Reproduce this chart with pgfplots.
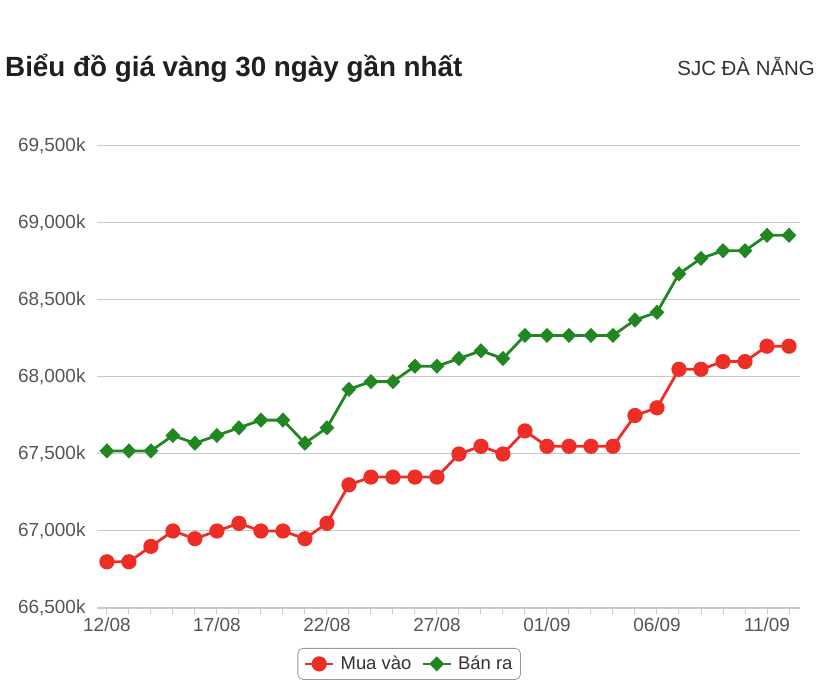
\documentclass[border=0pt]{standalone}
\usepackage{fontspec}
\setmainfont{Liberation Sans}
\usepackage{pgfplots}
\pgfplotsset{compat=1.18}
\definecolor{redc}{RGB}{236,46,38}
\definecolor{greenc}{RGB}{34,134,34}
\definecolor{gridc}{RGB}{200,200,200}
\definecolor{textc}{RGB}{85,85,85}
\begin{document}
\begin{tikzpicture}[x=1bp,y=1bp]
\path[use as bounding box] (0,0) rectangle (830,698);
\node[anchor=base west, inner sep=0pt, font=\fontsize{27.9}{32}\selectfont\bfseries, text=black!88] at (5,621) {Biểu đồ giá vàng 30 ngày gần nhất};
\node[anchor=base east, inner sep=0pt, font=\fontsize{20.5}{24}\selectfont, text=black!80] at (815,622) {SJC ĐÀ NẴNG};
\begin{axis}[at={(97bp,90bp)}, anchor=south west, scale only axis,
  width=703bp, height=462bp,
  xmin=-0.45, xmax=31.5, ymin=66500, ymax=69500,
  axis x line*=bottom, axis y line*=left,
  y axis line style={draw=none},
  x axis line style={draw=gridc, line width=1.2pt},
  ytick={66500,67000,...,69500},
  scaled y ticks=false,
  yticklabel={\pgfmathprintnumber[1000 sep={,}]{\tick}k},
  /pgf/number format/assume math mode=true,
  ymajorgrids, grid style={gridc, line width=1pt},
  ytick style={draw=none},
  xtick={0,5,...,30},
  xticklabels={12/08,17/08,22/08,27/08,01/09,06/09,11/09},
  minor xtick={0,...,31},
  tick align=outside,
  major tick length=6bp, minor tick length=6bp,
  xtick style={draw=gridc, line width=1pt},
  minor x tick style={draw=gridc, line width=1pt},
  tick label style={font=\fontsize{19}{21}\selectfont, text=textc},
  yticklabel style={xshift=-2bp},
  legend style={at={(0.444,-0.121)}, anchor=center, legend columns=2,
    draw=gray!80, rounded corners=5bp, line width=0.8pt,
    font=\fontsize{18.5}{21}\selectfont, text=black!80,
    inner xsep=6bp, inner ysep=6bp,
    /tikz/every odd column/.append style={column sep=4bp},
    /tikz/every even column/.append style={column sep=8bp}},
  legend image code/.code={\draw[#1] (0bp,0bp) -- (28bp,0bp); \draw[#1, mark repeat=2, mark phase=2] plot coordinates {(0bp,0bp) (14bp,0bp) (28bp,0bp)};},
]
\addplot[redc, line width=2.8pt, mark=*, mark size=6.2bp, mark options={solid}] coordinates {
(0,66800) (1,66800) (2,66900) (3,67000) (4,66950) (5,67000) (6,67050) (7,67000)
(8,67000) (9,66950) (10,67050) (11,67300) (12,67350) (13,67350) (14,67350) (15,67350)
(16,67500) (17,67550) (18,67500) (19,67650) (20,67550) (21,67550) (22,67550) (23,67550)
(24,67750) (25,67800) (26,68050) (27,68050) (28,68100) (29,68100) (30,68200) (31,68200)};
\addlegendentry{Mua vào}
\addplot[greenc, line width=2.8pt, mark=diamond*, mark size=5.6bp, mark options={solid, xscale=1.3}] coordinates {
(0,67520) (1,67520) (2,67520) (3,67620) (4,67570) (5,67620) (6,67670) (7,67720)
(8,67720) (9,67570) (10,67670) (11,67920) (12,67970) (13,67970) (14,68070) (15,68070)
(16,68120) (17,68170) (18,68120) (19,68270) (20,68270) (21,68270) (22,68270) (23,68270)
(24,68370) (25,68420) (26,68670) (27,68770) (28,68820) (29,68820) (30,68920) (31,68920)};
\addlegendentry{Bán ra}
\end{axis}
\end{tikzpicture}
\end{document}
